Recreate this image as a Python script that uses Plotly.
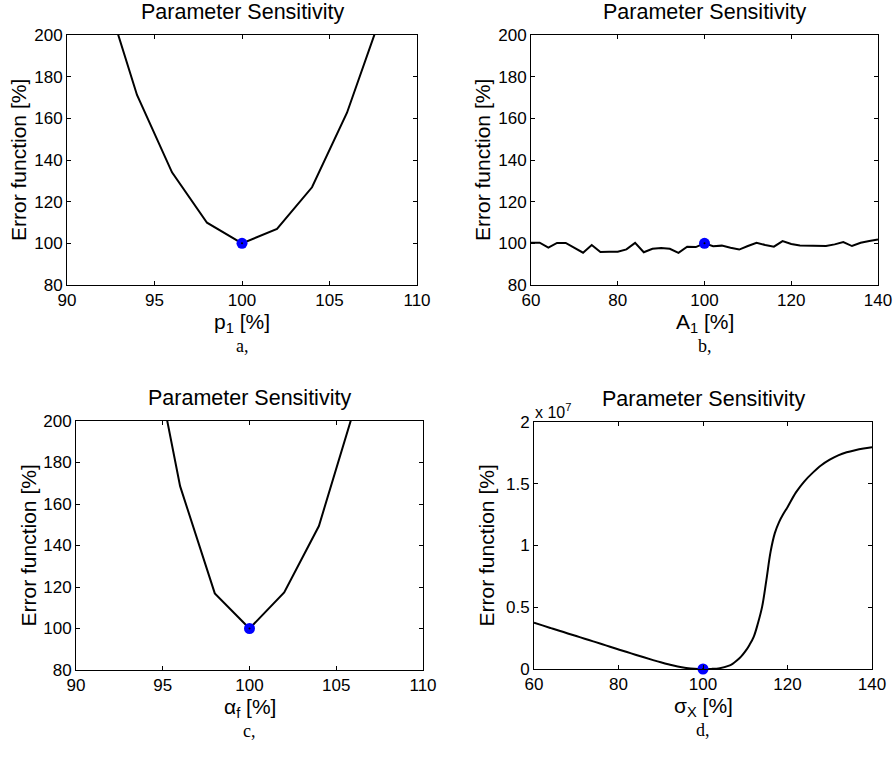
import plotly.graph_objects as go

W, H = 895, 776

# ---------------- data ----------------
p1_pct = [92, 94, 96, 98, 100, 102, 104, 106, 108]
err_p1 = [225.0, 171.2, 134.1, 109.9, 100.0, 106.9, 126.9, 162.7, 210.5]

A1_pct = list(range(60, 141, 2))
err_A1 = [100.3, 100.3, 97.9, 100.2, 100.2, 97.9, 95.5, 99.2, 95.8, 96.0,
          96.0, 97.1, 100.2, 95.7, 97.4, 97.8, 97.4, 95.4, 98.4, 98.2,
          100.0, 98.6, 98.9, 97.9, 97.0, 98.7, 100.3, 99.2, 98.4, 101.1,
          99.7, 99.0, 98.9, 99.0, 98.7, 99.5, 100.6, 98.7, 100.3, 101.1, 101.9]

af_pct = [94, 96, 98, 100, 102, 104, 106]
err_af = [253.5, 168.6, 116.9, 100.0, 117.4, 149.4, 204.7]

sx_pct = [60, 62, 64, 66, 68, 70, 72, 74, 76, 78, 80, 82, 84, 86, 88, 90, 92, 94, 96, 98,
          100, 102, 104, 106, 107, 108, 109, 110, 111, 112, 113, 114, 115, 116, 117, 118,
          119, 120, 122, 124, 126, 128, 130, 132, 134, 136, 138, 140]
err_sx_millions = [3.75, 3.53, 3.31, 3.10, 2.88, 2.67, 2.45, 2.24, 2.02, 1.80, 1.58, 1.37,
                   1.16, 0.95, 0.74, 0.54, 0.36, 0.20, 0.09, 0.02,
                   0.0, 0.01, 0.07, 0.25, 0.42, 0.68, 1.0, 1.42, 1.95, 2.6, 3.7, 5.05,
                   7.2, 9.5, 11.0, 11.9, 12.55, 13.1, 14.3, 15.2, 15.9, 16.5, 16.95,
                   17.3, 17.55, 17.72, 17.85, 17.95]
err_sx = [v * 1e6 for v in err_sx_millions]

opt_x = 100
opt_y = [100, 100, 100, 0]

titles = ["Parameter Sensitivity"] * 4
xlabels = ["p<sub>1</sub> [%]", "A<sub>1</sub> [%]", "α<sub>f</sub> [%]", "σ<sub>X</sub> [%]"]
ylabel = "Error function [%]"
panel_tags = ["a,", "b,", "c,", "d,"]

ticks_narrow = [90, 95, 100, 105, 110]
ticks_wide = [60, 80, 100, 120, 140]
ticks_err = [80, 100, 120, 140, 160, 180, 200]
ticks_d = [0, 0.5e7, 1e7, 1.5e7, 2e7]
ticks_d_text = ["0", "0.5", "1", "1.5", "2"]

# ---------------- layout geometry (pixels) ----------------
boxes = [  # x0, x1, y0(top), y1(bottom)
    (67, 417, 35, 285),
    (531, 878, 35, 285),
    (76, 423, 421, 670),
    (534, 872, 422, 669),
]

FONT = "Liberation Sans, Arial, sans-serif"

fig = go.Figure()

series = [(p1_pct, err_p1), (A1_pct, err_A1), (af_pct, err_af), (sx_pct, err_sx)]
for i, (xs, ys) in enumerate(series):
    ax = "" if i == 0 else str(i + 1)
    shape = "spline" if i == 3 else "linear"
    fig.add_trace(go.Scatter(x=xs, y=ys, mode="lines",
                             line=dict(color="black", width=2, shape=shape),
                             xaxis="x" + ax, yaxis="y" + ax, showlegend=False,
                             hoverinfo="skip"))
    fig.add_trace(go.Scatter(x=[opt_x], y=[opt_y[i]], mode="markers",
                             marker=dict(color="#0000FF", size=11),
                             xaxis="x" + ax, yaxis="y" + ax, showlegend=False,
                             cliponaxis=False, hoverinfo="skip"))
    fig.add_trace(go.Scatter(x=[opt_x], y=[opt_y[i]], mode="markers",
                             marker=dict(color="black", size=2),
                             xaxis="x" + ax, yaxis="y" + ax, showlegend=False,
                             cliponaxis=False, hoverinfo="skip"))

def px_x(v):
    return v / W

def px_y(v):
    return 1 - v / H

xranges = [[90, 110], [60, 140], [90, 110], [60, 140]]
xticks = [ticks_narrow, ticks_wide, ticks_narrow, ticks_wide]

axis_common = dict(showgrid=False, zeroline=False, showline=True, linecolor="black",
                   linewidth=1, mirror="ticks", ticks="inside", ticklen=4,
                   tickcolor="black", tickwidth=1, automargin=False,
                   tickfont=dict(family=FONT, size=17, color="black"))

layout = dict(width=W, height=H,
              margin=dict(l=0, r=0, t=0, b=0, pad=0, autoexpand=False),
              template="none",
              plot_bgcolor="white", paper_bgcolor="white", showlegend=False)

annotations = []
for i, (x0, x1, y0, y1) in enumerate(boxes):
    ax = "" if i == 0 else str(i + 1)
    xa = dict(axis_common, domain=[px_x(x0), px_x(x1)], range=xranges[i],
              tickvals=xticks[i], anchor="y" + ax)
    if i == 3:
        ya = dict(axis_common, domain=[px_y(y1), px_y(y0)], range=[0, 2e7],
                  tickvals=ticks_d, ticktext=ticks_d_text, anchor="x" + ax)
    else:
        ya = dict(axis_common, domain=[px_y(y1), px_y(y0)], range=[80, 200],
                  tickvals=ticks_err, anchor="x" + ax)
    layout["xaxis" + ax] = xa
    layout["yaxis" + ax] = ya

    cx = (x0 + x1) / 2
    # title
    annotations.append(dict(text=titles[i], x=px_x(cx), y=px_y(y0 - 23), xref="paper",
                            yref="paper", showarrow=False, xanchor="center", yanchor="middle",
                            font=dict(family=FONT, size=21.5, color="black")))
    # x label
    annotations.append(dict(text=xlabels[i], x=px_x(cx), y=px_y(y1 + 38), xref="paper",
                            yref="paper", showarrow=False, xanchor="center", yanchor="middle",
                            font=dict(family=FONT, size=21, color="black")))
    # y label
    annotations.append(dict(text=ylabel, x=px_x(x0 - 48), y=px_y((y0 + y1) / 2),
                            xref="paper", yref="paper", showarrow=False, textangle=-90,
                            xanchor="center", yanchor="middle",
                            font=dict(family=FONT, size=21, color="black")))
    # panel tag
    annotations.append(dict(text=panel_tags[i], x=px_x(cx), y=px_y(y1 + 61), xref="paper",
                            yref="paper", showarrow=False, xanchor="center", yanchor="middle",
                            font=dict(family="Liberation Serif, DejaVu Serif, serif",
                                      size=18, color="black")))

annotations.append(dict(text="x 10<sup>7</sup>", x=px_x(533), y=px_y(411), xref="paper",
                        yref="paper", showarrow=False, xanchor="left", yanchor="middle",
                        font=dict(family=FONT, size=16, color="black")))

layout["annotations"] = annotations
fig.update_layout(**layout)
fig.write_html("out.html", config={"displayModeBar": False},
               post_script="document.body.style.margin='0';document.body.style.overflow='hidden';")
